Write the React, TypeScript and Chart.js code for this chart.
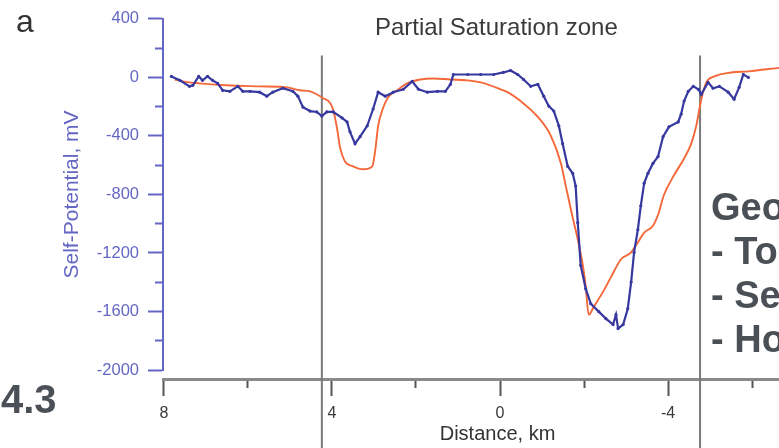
import React, { useEffect, useRef } from "react";
import { Chart, registerables } from "chart.js";

Chart.register(...registerables);

// Measured self-potential profile (blue, with markers)
const spDistance = [7.82, 7.62, 7.39, 7.31, 7.17, 7.08, 6.96, 6.84, 6.72, 6.6, 6.43, 6.24, 6.12, 5.95, 5.72, 5.55, 5.41, 5.17, 4.93, 4.81, 4.69, 4.52, 4.36, 4.24, 4.12, 3.97, 3.76, 3.64, 3.57, 3.45, 3.33, 3.16, 3.02, 2.9, 2.73, 2.54, 2.3, 2.09, 1.94, 1.73, 1.49, 1.3, 1.18, 1.11, 0.77, 0.46, 0.15, -0.08, -0.25, -0.42, -0.56, -0.73, -0.9, -1.04, -1.16, -1.28, -1.4, -1.49, -1.61, -1.73, -1.8, -1.85, -1.92, -2.04, -2.16, -2.35, -2.52, -2.69, -2.76, -2.81, -2.93, -3.04, -3.12, -3.19, -3.28, -3.35, -3.43, -3.52, -3.64, -3.76, -3.88, -4.02, -4.24, -4.31, -4.38, -4.48, -4.6, -4.72, -4.79, -4.95, -5.07, -5.22, -5.43, -5.57, -5.69, -5.79, -5.91];
const spValues = [7, -20, -61, -54, 7, -20, 7, -20, -41, -88, -95, -61, -95, -95, -101, -128, -101, -74, -95, -128, -203, -230, -236, -264, -236, -236, -277, -304, -372, -453, -405, -331, -216, -101, -128, -101, -81, -27, -81, -101, -95, -95, -47, 20, 20, 20, 20, 34, 47, 20, -14, -61, -47, -128, -196, -230, -331, -453, -608, -655, -743, -993, -1284, -1446, -1547, -1601, -1649, -1689, -1622, -1716, -1689, -1581, -1399, -1196, -1041, -878, -723, -655, -588, -541, -405, -338, -304, -250, -162, -95, -61, -81, -115, -34, -74, -61, -101, -149, -68, 20, 0];

// Modelled profile (orange)
const modelDistance = [7.74, 7.55, 7.15, 6.5, 5.72, 5.07, 4.76, 4.52, 4.21, 4.04, 3.97, 3.88, 3.81, 3.69, 3.5, 3.26, 3.04, 2.97, 2.9, 2.8, 2.66, 2.45, 2.21, 1.9, 1.59, 1.18, 0.77, 0.46, -0.01, -0.18, -0.49, -0.9, -1.21, -1.45, -1.56, -1.73, -1.85, -1.97, -2.04, -2.11, -2.23, -2.45, -2.64, -2.88, -3.12, -3.28, -3.43, -3.64, -3.76, -3.9, -4.14, -4.38, -4.55, -4.67, -4.79, -4.91, -5.1, -5.5, -5.91, -6.29, -6.75];
const modelValues = [-14, -27, -41, -54, -61, -68, -88, -95, -142, -176, -223, -345, -473, -574, -608, -628, -608, -500, -331, -223, -135, -88, -41, -14, -7, -14, -20, -34, -81, -101, -162, -270, -399, -588, -736, -959, -1108, -1284, -1432, -1622, -1568, -1466, -1365, -1243, -1196, -1128, -1061, -1014, -939, -804, -669, -554, -453, -331, -149, -34, 7, 34, 41, 54, 68];

// Partial saturation zone boundaries (km) and their vertical extent (mV)
const zoneBoundaries = [4.24, -4.76];
const boundaryTop = 150;
const boundaryBottom = -2650;

const xTickLabels = [8, 4, 0, -4];
const yTickLabels = [400, 0, -400, -800, -1200, -1600, -2000];

const slideBullets = ["Geo", "- To", "- Se", "- Ho"];

const FONT = "'Liberation Sans', Arial, Helvetica, sans-serif";
const BLUE = "#37389f";
const AXIS_BLUE = "#6466c4";
const ORANGE = "#f4683a";
const SLIDE_GRAY = "#4b5056";

export default function App() {
  const canvasRef = useRef<HTMLCanvasElement>(null);

  useEffect(() => {
    const canvas = canvasRef.current;
    if (!canvas) return;
    const spData = spDistance.map((x, i) => ({ x, y: spValues[i] }));
    const modelData = modelDistance.map((x, i) => ({ x, y: modelValues[i] }));
    const boundarySets = zoneBoundaries.map((bx) => ({
      label: "boundary",
      data: [
        { x: bx, y: boundaryTop },
        { x: bx, y: boundaryBottom },
      ],
      borderColor: "#7a7a7a",
      borderWidth: 2,
      pointRadius: 0,
      clip: false as any,
      order: 3,
    }));

    const chart = new Chart(canvas, {
      type: "line",
      data: {
        datasets: [
          {
            label: "Self-Potential",
            data: spData,
            borderColor: BLUE,
            borderWidth: 2.2,
            pointRadius: 1.6,
            pointBackgroundColor: BLUE,
            pointBorderWidth: 0,
            tension: 0,
            order: 0,
          },
          {
            label: "Model",
            data: modelData,
            borderColor: ORANGE,
            borderWidth: 1.9,
            pointRadius: 0,
            cubicInterpolationMode: "monotone",
            order: 1,
            clip: false as any,
          },
          ...boundarySets,
        ] as any,
      },
      options: {
        animation: false,
        responsive: false,
        devicePixelRatio: 1,
        layout: { padding: { left: 0, right: 0, top: 14, bottom: 78 } },
        plugins: {
          legend: { display: false },
          tooltip: { enabled: false },
        },
        scales: {
          x: {
            type: "linear",
            reverse: true,
            min: -7.9,
            max: 8.02,
            position: { y: -2068 } as any,
            ticks: {
              stepSize: 2,
              includeBounds: false,
              autoSkip: false,
              maxRotation: 0,
              padding: 9,
              color: "#3a3a3a",
              font: { family: FONT, size: 16 },
              callback: (v: any) => (xTickLabels.includes(Number(v)) ? String(v) : ""),
            },
            grid: {
              drawOnChartArea: false,
              drawTicks: true,
              tickLength: 15,
              tickWidth: 2,
              tickColor: "#555",
              tickBorderDash: (c: any) =>
                c.tick && xTickLabels.includes(c.tick.value) ? [] : [7, 40],
            } as any,
            border: { display: true, color: "#8a8a8a", width: 3 },
            title: {
              display: true,
              text: "Distance, km",
              color: "#333",
              font: { family: FONT, size: 20 },
              padding: { top: -10, bottom: 0 },
            },
          },
          y: {
            type: "linear",
            min: -2000,
            max: 400,
            position: "left",
            afterFit: (s: any) => {
              s.width = 163;
            },
            ticks: {
              stepSize: 200,
              autoSkip: false,
              padding: 9,
              color: AXIS_BLUE,
              font: { family: FONT, size: 16.5 },
              callback: (v: any) => (yTickLabels.includes(Number(v)) ? String(v) : ""),
            },
            grid: {
              drawOnChartArea: false,
              drawTicks: true,
              tickLength: 15,
              tickWidth: 2,
              tickColor: AXIS_BLUE,
              tickBorderDash: (c: any) =>
                c.tick && yTickLabels.includes(c.tick.value) ? [] : [0, 7, 8, 40],
            } as any,
            border: { display: true, color: AXIS_BLUE, width: 2 },
            title: {
              display: true,
              text: "Self-Potential, mV",
              color: AXIS_BLUE,
              font: { family: FONT, size: 21 },
              padding: { top: 60, bottom: 0 },
            },
          },
        },
      },
    });
    return () => chart.destroy();
  }, []);

  const textBase: React.CSSProperties = {
    position: "absolute",
    whiteSpace: "nowrap",
    fontFamily: FONT,
    margin: 0,
  };

  return (
    <div
      style={{
        position: "fixed",
        left: 0,
        top: 0,
        width: 779,
        height: 448,
        overflow: "hidden",
        background: "#ffffff",
      }}
    >
      <canvas
        ref={canvasRef}
        width={836}
        height={448}
        style={{ position: "absolute", left: 0, top: 0, width: 836, height: 448 }}
      />
      <div style={{ ...textBase, left: 16, top: 5, fontSize: 32, lineHeight: "32px", color: "#333" }}>a</div>
      <div style={{ ...textBase, left: 375, top: 15, fontSize: 24, lineHeight: "24px", color: "#3a3a3a" }}>
        Partial Saturation zone
      </div>
      <div
        style={{ ...textBase, left: 1, top: 379, fontSize: 40, lineHeight: "40px", fontWeight: 700, color: SLIDE_GRAY }}
      >
        4.3
      </div>
      {slideBullets.map((t, i) => (
        <div
          key={t}
          style={{
            ...textBase,
            left: 711,
            top: 188 + i * 44,
            fontSize: 38,
            lineHeight: "38px",
            fontWeight: 700,
            color: SLIDE_GRAY,
          }}
        >
          {t}
        </div>
      ))}
    </div>
  );
}
